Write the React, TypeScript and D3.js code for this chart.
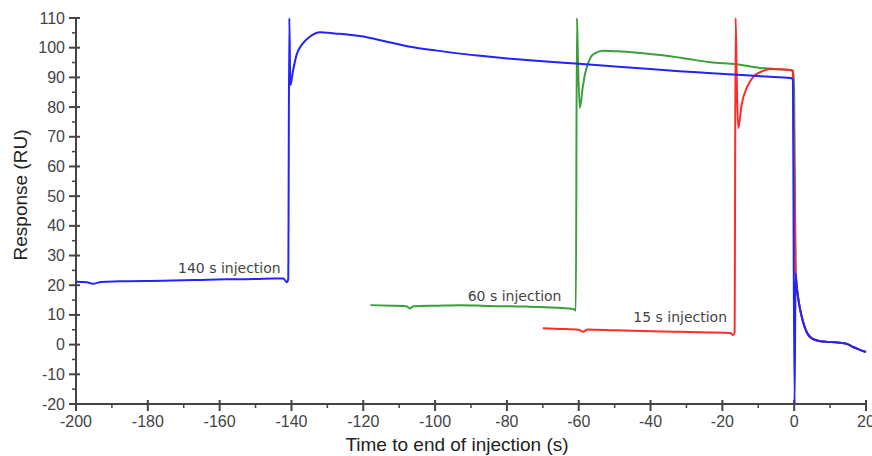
import React, { useEffect, useRef } from "react";
import * as d3 from "d3";

// [time (s), response (RU)]
const blueTrace: [number, number][] = [
  [-200, 21.2], [-197, 21.0], [-195.3, 20.5], [-193, 21.1], [-188, 21.3], [-176, 21.5],
  [-165, 21.8], [-158, 22.0], [-150, 22.1], [-145, 22.3], [-142.3, 22.3], [-141.3, 21.0],
  [-140.9, 22], [-140.6, 110], [-140.3, 87.4], [-139.6, 92], [-138.6, 97.5], [-137, 101.2],
  [-135, 103.6], [-132, 105.2], [-128, 104.8], [-121, 103.9], [-114, 102.2], [-107, 100.3],
  [-100, 99.1], [-93, 98.0], [-86, 97.1], [-79, 96.3], [-70, 95.4], [-60, 94.6], [-48, 93.5],
  [-40, 92.8], [-32, 92.1], [-24, 91.5], [-16, 90.9], [-8, 90.3], [-1, 89.8], [-0.4, 89.3],
  [0.1, -20], [0.4, 24], [0.8, 18.5], [1.2, 15], [1.7, 11.6], [2.5, 7.5], [3.6, 3.9],
  [5, 2.0], [7, 1.2], [9.2, 0.9], [11.5, 0.8], [13.6, 0.5], [15, 0.1], [16.4, -0.8],
  [18, -1.6], [20, -2.5],
];

const greenTrace: [number, number][] = [
  [-118, 13.3], [-112, 13.1], [-108, 12.9], [-107, 12.2], [-106, 12.9], [-100, 13.1],
  [-93, 13.3], [-85, 13.0], [-74.4, 12.8], [-66, 12.4], [-61.5, 12.0], [-60.8, 11.5],
  [-60.5, 110], [-60.2, 95], [-59.7, 79.7], [-58.9, 86.5], [-58.2, 91.4], [-56.8, 96.5],
  [-55.4, 98.2], [-53.2, 99.0], [-48, 98.7], [-42, 98.1], [-37.3, 97.5], [-30, 96.3],
  [-23.4, 95.1], [-16, 94.4], [-9.5, 93.2], [-4, 92.7], [-1, 92.5], [-0.3, 92.2],
  [0, 86], [0.4, 24], [0.8, 18.5], [1.2, 15], [1.7, 11.6], [2.5, 7.5], [3.6, 3.9],
  [5, 2.0], [7, 1.2], [9.2, 0.9], [11.5, 0.8], [13.6, 0.5], [15, 0.1], [16.4, -0.8],
  [18, -1.6], [20, -2.5],
];

const redTrace: [number, number][] = [
  [-70, 5.5], [-65, 5.3], [-60, 5.0], [-58.8, 4.3], [-57.5, 5.1], [-50, 4.8], [-40, 4.5],
  [-31.8, 4.3], [-24, 4.1], [-17.8, 3.9], [-17, 3.2], [-16.6, 4], [-16.3, 110], [-16, 90],
  [-15.6, 72.9], [-14.6, 81], [-13.1, 86.8], [-11.4, 90.2], [-8.6, 92.2], [-6.7, 92.8],
  [-4, 92.7], [-1, 92.4], [-0.4, 92.1], [0, 60], [0.4, 24], [0.8, 18.5], [1.2, 15],
  [1.7, 11.6], [2.5, 7.5], [3.6, 3.9], [5, 2.0], [7, 1.2], [9.2, 0.9], [11.5, 0.8],
  [13.6, 0.5], [15, 0.1], [16.4, -0.8], [18, -1.6], [20, -2.5],
];

const seriesColors = ["#3aa03a", "#ff2a2a", "#2323ff"];
const injectionLabels = ["140 s injection", "60 s injection", "15 s injection"];
// where each label sits: [time of right end, response at baseline]
const labelAnchors: [number, number][] = [[-143, 24.2], [-64.8, 14.8], [-18.7, 7.7]];

const xTicks = d3.range(-200, 21, 20);
const yTicks = d3.range(-20, 111, 10);

const App = () => {
  const svgRef = useRef<SVGSVGElement>(null);

  useEffect(() => {
    const width = 872, height = 456;
    const svg = d3.select(svgRef.current).attr("width", width).attr("height", height);
    svg.selectAll("*").remove();

    const x = d3.scaleLinear().domain([-200, 20]).range([76, 866]);
    const y = d3.scaleLinear().domain([-20, 110]).range([404, 18]);
    const axisColor = "#444";
    const tickFont = "Liberation Sans, Arial, sans-serif";

    // axes
    const g = svg.append("g");
    g.append("line").attr("x1", x(-200)).attr("x2", x(-200)).attr("y1", y(110)).attr("y2", y(-20))
      .attr("stroke", axisColor).attr("stroke-width", 2);
    g.append("line").attr("x1", x(-200)).attr("x2", x(20)).attr("y1", y(-20)).attr("y2", y(-20))
      .attr("stroke", axisColor).attr("stroke-width", 2);

    // y ticks
    g.selectAll(".ymaj").data(yTicks).enter().append("line")
      .attr("x1", x(-200) - 7).attr("x2", x(-200) + 4)
      .attr("y1", d => y(d)).attr("y2", d => y(d))
      .attr("stroke", axisColor).attr("stroke-width", 2);
    g.selectAll(".ymin").data(yTicks.slice(0, -1).map(d => d + 5)).enter().append("line")
      .attr("x1", x(-200) - 4).attr("x2", x(-200))
      .attr("y1", d => y(d)).attr("y2", d => y(d))
      .attr("stroke", axisColor).attr("stroke-width", 1.5);
    g.selectAll(".ylab").data(yTicks).enter().append("text")
      .attr("x", 65).attr("y", d => y(d) + 5.5)
      .attr("text-anchor", "end").attr("font-family", tickFont).attr("font-size", 16)
      .attr("fill", "#444").text(d => d);

    // x ticks
    g.selectAll(".xmaj").data(xTicks).enter().append("line")
      .attr("x1", d => x(d)).attr("x2", d => x(d))
      .attr("y1", y(-20) - 4).attr("y2", y(-20) + 7)
      .attr("stroke", axisColor).attr("stroke-width", 2);
    g.selectAll(".xmin").data(xTicks.slice(0, -1).map(d => d + 10)).enter().append("line")
      .attr("x1", d => x(d)).attr("x2", d => x(d))
      .attr("y1", y(-20)).attr("y2", y(-20) + 4)
      .attr("stroke", axisColor).attr("stroke-width", 1.5);
    g.selectAll(".xlab").data(xTicks).enter().append("text")
      .attr("x", d => x(d)).attr("y", 427)
      .attr("text-anchor", "middle").attr("font-family", tickFont).attr("font-size", 16)
      .attr("fill", "#444").text(d => d);

    // axis titles
    g.append("text").attr("x", 457).attr("y", 451)
      .attr("text-anchor", "middle").attr("font-family", tickFont).attr("font-size", 19)
      .attr("fill", "#222").text("Time to end of injection (s)");
    g.append("text").attr("transform", "translate(27,195) rotate(-90)")
      .attr("text-anchor", "middle").attr("font-family", tickFont).attr("font-size", 19)
      .attr("fill", "#222").text("Response (RU)");

    // traces: green, red, then blue on top
    const line = d3.line<[number, number]>()
      .x(d => x(d[0])).y(d => y(d[1]))
      .curve(d3.curveMonotoneX);
    [greenTrace, redTrace, blueTrace].forEach((trace, i) => {
      svg.append("path").datum(trace)
        .attr("d", line)
        .attr("fill", "none")
        .attr("stroke", seriesColors[i])
        .attr("stroke-width", 2)
        .attr("stroke-linejoin", "round");
    });

    // injection labels
    svg.selectAll(".inj").data(injectionLabels).enter().append("text")
      .attr("x", (d, i) => x(labelAnchors[i][0]))
      .attr("y", (d, i) => y(labelAnchors[i][1]))
      .attr("text-anchor", "end").attr("font-family", "DejaVu Sans, Verdana, sans-serif")
      .attr("font-size", 14).attr("fill", "#444").text(d => d);
  }, []);

  return (
    <div style={{ position: "absolute", left: 0, top: 0, background: "#fff" }}>
      <svg ref={svgRef}></svg>
    </div>
  );
};

export default App;
